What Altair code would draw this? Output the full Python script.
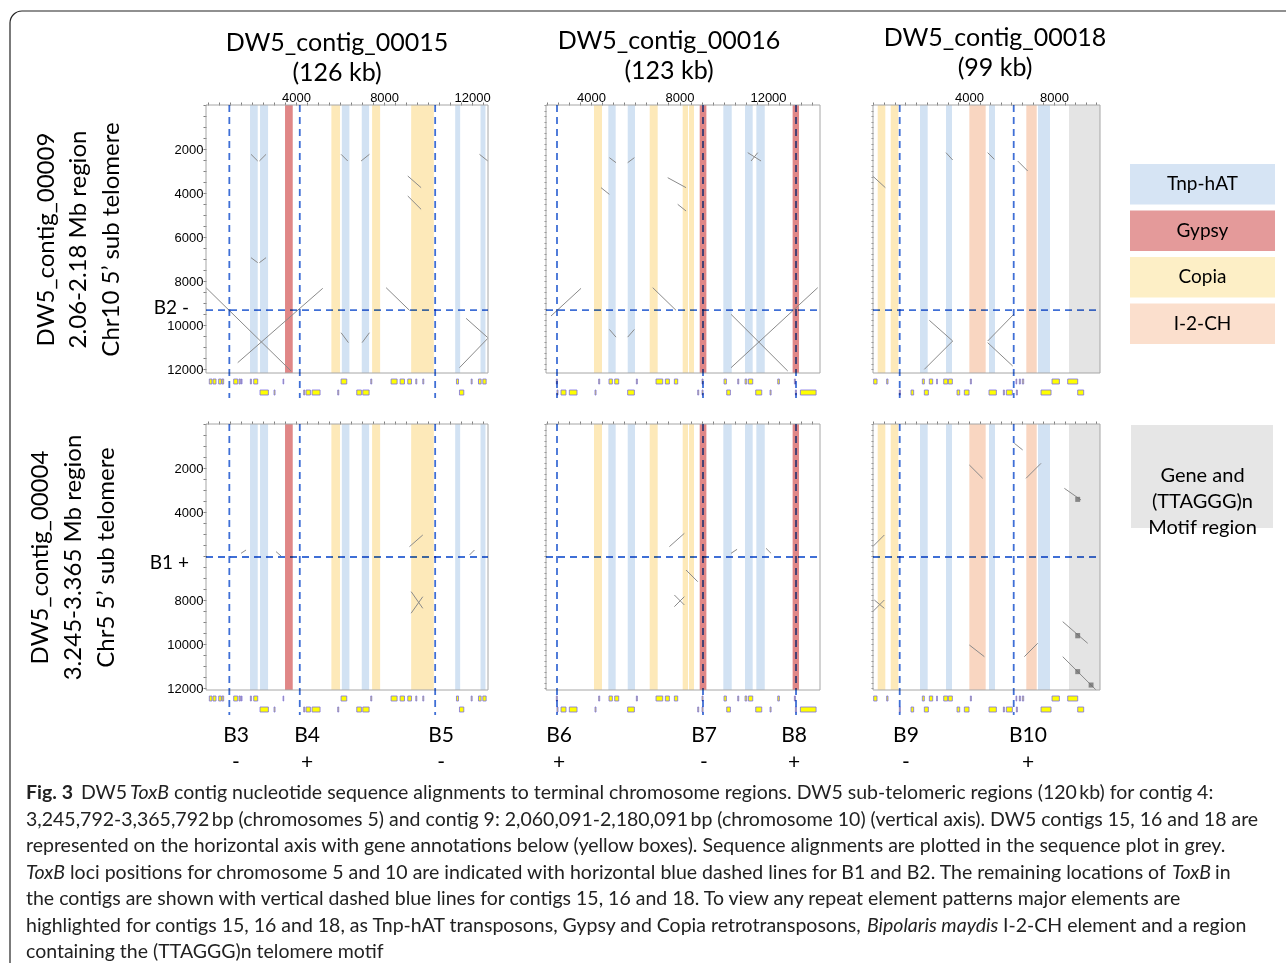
import altair as alt
import pandas as pd

FONT = "Lato"
AXIS_FONT = "Liberation Sans"
CAP_FONT = "Lato"
DASH_COLOR = "#3f6fd6"
FRAME_COLOR = "#a6a6a6"

# ---------------- data ----------------
ELEMENT_TYPES = ["Tnp-hAT", "Gypsy", "Copia", "I-2-CH", "Motif"]
ELEMENT_COLORS = ["#d2e2f3", "#e08787", "#fde9b9", "#f9d6c1", "#e4e4e4"]

CONTIG_NAMES = ["DW5_contig_00015", "DW5_contig_00016", "DW5_contig_00018"]
CONTIG_SIZES = ["(126 kb)", "(123 kb)", "(99 kb)"]
CONTIG_X_DOMAIN = [[-90, 12720], [1966, 14350], [-518, 10165]]

ROW_LABELS = [
    ["DW5_contig_00009", "2.06-2.18 Mb region", "Chr10 5\u2019 sub telomere"],
    ["DW5_contig_00004", "3.245-3.365 Mb region", "Chr5 5\u2019 sub telomere"],
]
ROW_Y_MAX = [12180, 12090]
ROW_TOXB_LABEL = ["B2 -", "B1 +"]
ROW_TOXB_POS = [9320, 6045]

BANDS_15 = [("Tnp-hAT", 1910, 2260), ("Tnp-hAT", 2365, 2730), ("Gypsy", 3500, 3850),
            ("Copia", 5605, 6000), ("Tnp-hAT", 6080, 6425), ("Tnp-hAT", 6985, 7320),
            ("Copia", 7455, 7820), ("Copia", 9230, 10260), ("Tnp-hAT", 11230, 11455),
            ("Tnp-hAT", 12380, 12605)]
BANDS_16 = [("Copia", 4136, 4497), ("Tnp-hAT", 4782, 5115), ("Tnp-hAT", 5659, 5989),
            ("Copia", 6653, 7014), ("Copia", 8144, 8384), ("Copia", 8430, 8656),
            ("Gypsy", 8913, 9215), ("Tnp-hAT", 9980, 10360), ("Tnp-hAT", 10961, 11308),
            ("Tnp-hAT", 11473, 11853), ("Gypsy", 13113, 13402)]
BANDS_18 = [("Copia", -297, 62), ("Copia", 315, 673), ("Tnp-hAT", 1694, 2056),
            ("Tnp-hAT", 2918, 3200), ("I-2-CH", 4016, 4785), ("Tnp-hAT", 4941, 5224),
            ("I-2-CH", 6697, 7186), ("Tnp-hAT", 7247, 7812), ("Motif", 8706, 10165)]

LOCI_15 = [970, 4170, 10320]
LOCI_16 = [2463, 9062, 13266]
LOCI_18 = [739, 6104]

GENES_15_T1 = [(61, 183), (228, 365), (486, 607), (637, 713), (1168, 1350), (1410, 1471),
               (1516, 1546), (1925, 1971), (2077, 2259), (3410, 3440), (6046, 6304),
               (7394, 7440), (8318, 8591), (8728, 8925), (9076, 9243), (9440, 9485),
               (9758, 9803), (11288, 11379), (11955, 12000), (12288, 12409), (12485, 12636)]
GENES_15_T2 = [(2365, 2743), (3001, 3046), (4349, 4395), (4455, 4652), (4728, 5092),
               (5894, 5940), (6758, 6970), (7031, 7319), (11424, 11621)]
GENES_16_T1 = [(2433, 2479), (4347, 4393), (4814, 4965), (5071, 5252), (6050, 6095),
               (6939, 7241), (7361, 7542), (7768, 7919), (9019, 9064), (10013, 10119),
               (10632, 10677), (10963, 11038), (11114, 11310), (12440, 12515), (13193, 13238)]
GENES_16_T2 = [(2463, 2509), (2644, 2870), (3021, 3368), (4182, 4227), (5658, 5960),
               (8823, 8868), (9019, 9064), (10134, 10300), (11445, 11717), (12093, 12139),
               (13238, 13284), (13464, 14173)]
GENES_18_T1 = [(-486, -329), (125, 188), (1804, 1898), (2134, 2291), (2479, 2510),
               (2809, 2997), (3028, 3216), (4064, 4111), (6213, 6245), (6370, 6417),
               (6511, 6574), (7908, 8253), (8645, 9116)]
GENES_18_T2 = [(722, 769), (1271, 1396), (1898, 2087), (3436, 3562), (3781, 4001),
               (4942, 5287), (5617, 5664), (5758, 6040), (6229, 6276), (7390, 7861),
               (9116, 9398)]

ALIGN_15_R1 = [(-90, 8302, 3774, 12089), (1350, 11711, 5213, 8332), (1955, 2242, 2259, 2545),
               (2335, 2545, 2638, 2242), (1955, 6939, 2259, 7166), (2335, 7166, 2638, 6939),
               (6046, 2242, 6349, 2545), (6955, 2545, 7334, 2242), (6046, 10350, 6380, 10800),
               (7334, 10350, 7000, 10800), (8091, 8302, 9152, 9332), (9076, 3227, 9682, 3757),
               (9076, 4136, 9682, 4742), (11727, 9696, 12712, 10575),
               (11424, 11938, 12712, 10605), (12333, 2242, 12712, 2545)]
ALIGN_16_R1 = [(2192, 9590, 3549, 8332), (6789, 8302, 7844, 9332), (10330, 9514, 12892, 12089),
               (10330, 11938, 14248, 8302), (7467, 3303, 8296, 3757), (7919, 4514, 8296, 4818),
               (11084, 2166, 11686, 2545), (11235, 2545, 11535, 2166), (4830, 2394, 5131, 2621),
               (5658, 2621, 5960, 2394), (4830, 10200, 5131, 10550), (5658, 10550, 5960, 10200),
               (4453, 3757, 4830, 4060)]
ALIGN_18_R1 = [(2134, 9787, 3232, 10726), (1898, 12014, 3232, 10726), (4880, 10726, 6104, 9514),
               (4880, 10802, 6056, 11862), (-533, 3227, 63, 3757), (6292, 2545, 6762, 3000),
               (2918, 2166, 3232, 2500), (4880, 2166, 5193, 2469)]
ALIGN_15_R2 = [(9152, 5575, 9758, 5045), (9228, 7620, 9758, 8378), (9228, 8600, 9758, 7850),
               (1501, 5878, 1729, 5727), (3092, 5802, 3319, 6000), (11879, 5954, 12106, 5727)]
ALIGN_16_R2 = [(7542, 5575, 8220, 4969), (7768, 8302, 8220, 7847), (7768, 7772, 8220, 8226),
               (8296, 6636, 8823, 7166), (10330, 5878, 10601, 5696), (11912, 5651, 12139, 5878)]
ALIGN_18_R2 = [(8488, 2924, 9273, 3454), (8410, 8984, 9587, 9968), (8410, 10575, 9979, 12089),
               (-533, 5575, 16, 5045), (-533, 8530, 16, 8000), (-455, 8000, 16, 8378),
               (4016, 1863, 4644, 2469), (6684, 2469, 7390, 1787), (4016, 10044, 4723, 10575),
               (6605, 10575, 7233, 9968), (6135, 878, 6527, 1181)]
MOTIF_BLOCKS_18_R2 = [(9000, 9230, 3310, 3540), (9000, 9230, 9500, 9740),
                      (9000, 9230, 11140, 11370), (9630, 9860, 11750, 11980)]

B_LABELS = [[("B3", "-", 1273), ("B4", "+", 4500), ("B5", "-", 10590)],
            [("B6", "+", 2554), ("B7", "-", 9108), ("B8", "+", 13176)],
            [("B9", "-", 1035), ("B10", "+", 6777)]]

LEGEND_NAMES = ["Tnp-hAT", "Gypsy", "Copia", "I-2-CH"]
LEGEND_COLORS = ["#d6e4f4", "#e49a9a", "#fdefc6", "#fbdfcd"]
MOTIF_LEGEND = ["Gene and", "(TTAGGG)n", "Motif region"]

CAPTION = [
    [("Fig. 3", "bold", 25), ("DW5", "normal", 80), ("ToxB", "italic", 129),
     ("contig nucleotide sequence alignments to terminal chromosome regions. DW5 sub-telomeric regions (120\u2009kb) for contig 4:", "normal", 173)],
    [("3,245,792-3,365,792\u2009bp (chromosomes 5) and contig 9: 2,060,091-2,180,091\u2009bp (chromosome 10) (vertical axis). DW5 contigs 15, 16 and 18 are", "normal", 25)],
    [("represented on the horizontal axis with gene annotations below (yellow boxes). Sequence alignments are plotted in the sequence plot in grey.", "normal", 25)],
    [("ToxB", "italic", 25), ("loci positions for chromosome 5 and 10 are indicated with horizontal blue dashed lines for B1 and B2. The remaining locations of", "normal", 69),
     ("ToxB", "italic", 1171), ("in", "normal", 1214)],
    [("the contigs are shown with vertical dashed blue lines for contigs 15, 16 and 18. To view any repeat element patterns major elements are", "normal", 25)],
    [("highlighted for contigs 15, 16 and 18, as Tnp-hAT transposons, Gypsy and Copia retrotransposons,", "normal", 25),
     ("Bipolaris maydis", "italic", 866), ("I-2-CH element and a region", "normal", 1002)],
    [("containing the (TTAGGG)n telomere motif", "normal", 25)],
]

# ---------------- layout ----------------
FRAME_W = [282, 274, 227]
CELL_W = [310, 297, 227]
ROW_H = [268, 266]
COL_GAP, ROW_GAP = 30, 51
LEGEND_W = 145
ORIGIN_X, ORIGIN_Y = 205, 104 + ROW_H[0] + ROW_GAP + ROW_H[1] + ROW_GAP
CAP_H = 200
CAP_BASE, CAP_STEP, CAP_SIZE = 798, 26.5, 19.5

TITLE_DX = [-24, -25.5, 8.5]
TITLE_OFFSET = [-20, -18, -15]
ROW_TITLE_X = [-148, -154]
ROW_TITLE_LH = [32.5, 33]
TOXB_DY = [-2, 6]

BANDS = [BANDS_15, BANDS_16, BANDS_18]
LOCI = [LOCI_15, LOCI_16, LOCI_18]
GENES = [(GENES_15_T1, GENES_15_T2), (GENES_16_T1, GENES_16_T2), (GENES_18_T1, GENES_18_T2)]
ALIGNS = [[ALIGN_15_R1, ALIGN_16_R1, ALIGN_18_R1], [ALIGN_15_R2, ALIGN_16_R2, ALIGN_18_R2]]


def panel(ci, ri):
    fw, cw, h = FRAME_W[ci], CELL_W[ci], ROW_H[ri]
    d0, d1 = CONTIG_X_DOMAIN[ci]
    view_end = d0 + (d1 - d0) * cw / fw
    xs = alt.Scale(domain=[d0, view_end], nice=False, zero=False)
    ys = alt.Scale(domain=[0, ROW_Y_MAX[ri]], nice=False, zero=False, reverse=True)
    xticks = [v for v in range(-1000, 15001, 500) if d0 <= v <= d1]

    xaxis_kw = dict(orient="top", values=xticks, tickSize=3, tickColor="#7f7f7f",
                    domain=False, grid=False, title=None, labelOverlap=False)
    if ri == 0:
        xaxis_kw.update(labels=True, labelFont=AXIS_FONT, labelFontSize=13, labelColor="black",
                        labelPadding=-2, labelFlush=False,
                        labelExpr="datum.value > 0 && datum.value % 4000 === 0 ? format(datum.value, 'd') : ''")
    else:
        xaxis_kw.update(labels=False)
    xaxis = alt.Axis(**xaxis_kw)

    if ci == 0:
        hide = " && datum.value !== 6000" if ri == 1 else ""
        yaxis = alt.Axis(values=list(range(0, 12001, 500)), tickSize=3, tickColor="#7f7f7f",
                         domain=False, grid=False, labelFont=AXIS_FONT, labelFontSize=13,
                         labelColor="black", labelPadding=0, labelOverlap=False, labelFlush=False,
                         labelExpr="datum.value > 0 && datum.value % 2000 === 0" + hide + " ? format(datum.value, 'd') : ''",
                         title=ROW_LABELS[ri], titleFont=FONT, titleFontSize=24,
                         titleFontWeight="normal", titleColor="black", titleAngle=270,
                         titleBaseline="bottom", titleAlign="center", titleLineHeight=ROW_TITLE_LH[ri],
                         titleX=ROW_TITLE_X[ri], titleY=h / 2)
    else:
        yaxis = alt.Axis(values=list(range(0, 12001, 250)), tickSize=2, tickColor="#8f8f8f",
                         domain=False, grid=False, labels=False, title=None)

    # every layer carries the same axis definition (layers merge them into one axis)
    X = lambda f: alt.X(f, scale=xs, axis=xaxis)
    Y = lambda f: alt.Y(f, scale=ys, axis=yaxis)

    bdf = pd.DataFrame(BANDS[ci], columns=["type", "start", "end"])
    bands = alt.Chart(bdf).mark_rect().encode(
        x=X("start:Q"), x2="end:Q",
        y=alt.value(0), y2=alt.value(h),
        color=alt.Color("type:N", scale=alt.Scale(domain=ELEMENT_TYPES, range=ELEMENT_COLORS), legend=None),
    )
    adf = pd.DataFrame(ALIGNS[ri][ci], columns=["x1", "y1", "x2", "y2"])
    diag = alt.Chart(adf).mark_rule(color="#8a8a8a", strokeWidth=1).encode(
        x=X("x1:Q"), x2="x2:Q", y=Y("y1:Q"), y2="y2:Q")
    layers = [bands, diag]
    if ri == 1 and ci == 2:
        mdf = pd.DataFrame(MOTIF_BLOCKS_18_R2, columns=["x1", "x2", "y1", "y2"])
        layers.append(alt.Chart(mdf).mark_rect(color="#6e6e6e", opacity=0.8).encode(
            x=X("x1:Q"), x2="x2:Q", y=Y("y1:Q"), y2="y2:Q"))

    for g, (ya, yb) in zip(GENES[ci], [(h + 6, h + 11), (h + 17, h + 22)]):
        gdf = pd.DataFrame(g, columns=["start", "end"])
        layers.append(alt.Chart(gdf).mark_rect(fill="#ffff00", stroke="#7b6fe3", strokeWidth=0.8).encode(
            x=X("start:Q"), x2="end:Q", y=alt.value(ya), y2=alt.value(yb)))

    fdf = pd.DataFrame({"x0": [d0], "x1": [d1], "y0": [0], "y1": [ROW_Y_MAX[ri]]})
    layers.append(alt.Chart(fdf).mark_rect(filled=False, color=FRAME_COLOR, strokeWidth=1).encode(
        x=X("x0:Q"), x2="x1:Q", y=Y("y0:Q"), y2="y1:Q"))

    ldf = pd.DataFrame({"pos": LOCI[ci]})
    layers.append(alt.Chart(ldf).mark_rule(color=DASH_COLOR, strokeWidth=1.8, strokeDash=[7, 5], blend="multiply").encode(
        x=X("pos:Q"), y=alt.value(0), y2=alt.value(h + 25)))
    hdf = pd.DataFrame({"pos": [ROW_TOXB_POS[ri]], "label": [ROW_TOXB_LABEL[ri]]})
    layers.append(alt.Chart(hdf).mark_rule(color=DASH_COLOR, strokeWidth=1.8, strokeDash=[7, 5], blend="multiply").encode(
        y=Y("pos:Q"), x=alt.value(0), x2=alt.value(fw)))
    if ci == 0:
        layers.append(alt.Chart(hdf).mark_text(font=FONT, fontSize=19, align="right", baseline="middle",
                                               dy=TOXB_DY[ri], color="black").encode(
            y=Y("pos:Q"), x=alt.value(-17), text="label:N"))
    if ri == 1:
        bl = pd.DataFrame(B_LABELS[ci], columns=["name", "sign", "pos"])
        layers.append(alt.Chart(bl).mark_text(font=FONT, fontSize=21, baseline="middle", color="black").encode(
            x=X("pos:Q"), y=alt.value(h + 46), text="name:N"))
        layers.append(alt.Chart(bl).mark_text(font=FONT, fontSize=21, baseline="middle", color="black").encode(
            x=X("pos:Q"), y=alt.value(h + 73), text="sign:N"))

    props = dict(width=cw, height=h)
    if ri == 0:
        props["title"] = alt.TitleParams(text=[CONTIG_NAMES[ci], CONTIG_SIZES[ci]], font=FONT, fontSize=25,
                                         fontWeight="normal", color="black", lineHeight=30, anchor="middle",
                                         baseline="bottom", dx=TITLE_DX[ci], offset=TITLE_OFFSET[ci])
    return alt.layer(*layers).properties(**props)


def legend_top():
    df = pd.DataFrame({"name": LEGEND_NAMES, "color": LEGEND_COLORS})
    ysc = alt.Scale(domain=LEGEND_NAMES, range=[59, 239], paddingInner=0.13, paddingOuter=0)
    rect = alt.Chart(df).mark_rect().encode(
        y=alt.Y("name:N", scale=ysc, axis=None), x=alt.value(0), x2=alt.value(LEGEND_W),
        color=alt.Color("color:N", scale=None))
    txt = alt.Chart(df).mark_text(font=FONT, fontSize=19, color="black", baseline="middle").encode(
        y=alt.Y("name:N", scale=ysc, axis=None), x=alt.value(LEGEND_W / 2), text="name:N")
    return alt.layer(rect, txt).properties(width=LEGEND_W, height=ROW_H[0])


def legend_bottom():
    df = pd.DataFrame({"k": [0]})
    rect = alt.Chart(df).mark_rect(color="#e6e6e6").encode(
        x=alt.value(1), x2=alt.value(LEGEND_W - 2), y=alt.value(1), y2=alt.value(104))
    txt = alt.Chart(df).mark_text(text=MOTIF_LEGEND, font=FONT, fontSize=20, lineHeight=26,
                                  color="black", baseline="middle").encode(
        x=alt.value(LEGEND_W / 2), y=alt.value(52))
    return alt.layer(rect, txt).properties(width=LEGEND_W, height=ROW_H[1])


def caption_chart():
    rows = []
    for li, segs in enumerate(CAPTION):
        for text, style, xabs in segs:
            rows.append({"text": text, "style": style, "x": xabs - ORIGIN_X,
                         "y": CAP_BASE + li * CAP_STEP - ORIGIN_Y})
    df = pd.DataFrame(rows)
    layers = []
    for style, kw in [("normal", {}), ("bold", {"fontWeight": "bold"}), ("italic", {"fontStyle": "italic"})]:
        layers.append(alt.Chart(df[df["style"] == style]).mark_text(
            font=CAP_FONT, fontSize=CAP_SIZE, align="left", baseline="alphabetic", color="#222222", **kw).encode(
            x=alt.X("x:Q", scale=None, axis=None), y=alt.Y("y:Q", scale=None, axis=None), text="text:N"))
    d = pd.DataFrame({"k": [0]})
    left, top, right, bottom, r = 9 - ORIGIN_X, 10 - ORIGIN_Y, 1285 - ORIGIN_X, 962 - ORIGIN_Y, 12
    layers.append(alt.Chart(d).mark_rule(color="#222222", strokeWidth=1.2).encode(
        x=alt.value(left + r), x2=alt.value(right), y=alt.value(top)))
    layers.append(alt.Chart(d).mark_rule(color="#222222", strokeWidth=1.2).encode(
        x=alt.value(left), y=alt.value(top + r), y2=alt.value(bottom)))
    layers.append(alt.Chart(d).mark_arc(color="#222222", radius=r + 0.6, radius2=r - 0.6,
                                        theta=4.7124, theta2=6.2832).encode(
        x=alt.value(left + r), y=alt.value(top + r)))
    return alt.layer(*layers).properties(width=CELL_W[0], height=CAP_H)


cells = [panel(0, 0), panel(1, 0), panel(2, 0), legend_top(),
         panel(0, 1), panel(1, 1), panel(2, 1), legend_bottom(),
         caption_chart()]

chart = alt.concat(*cells, columns=4, spacing={"row": ROW_GAP, "column": COL_GAP},
                   bounds="flush", align="each").properties(
    padding={"left": 9, "top": 10, "right": 0, "bottom": 0},
    background="white",
).configure(font=FONT).configure_view(strokeWidth=0)

chart.save("out.html", embed_options={"renderer": "svg", "actions": False})
